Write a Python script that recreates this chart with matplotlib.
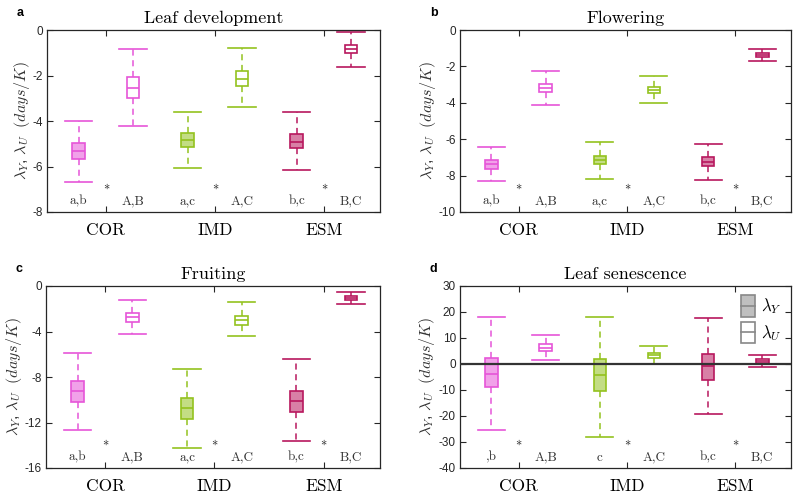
import matplotlib
matplotlib.use("Agg")
import matplotlib.pyplot as plt
from matplotlib.patches import Patch, Rectangle
from matplotlib.lines import Line2D
from matplotlib.legend_handler import HandlerBase
import matplotlib.transforms as mtransforms

plt.rcParams['mathtext.fontset'] = 'cm'
plt.rcParams['font.family'] = ['Liberation Sans', 'DejaVu Sans']
plt.rcParams['axes.unicode_minus'] = False

models = ['COR', 'IMD', 'ESM']
colors = ['#E655D8', '#93C21F', '#B8185E']

# box stats per model: [whislo, q1, median, q3, whishi]
leafdev_Y = [[-6.67, -5.67, -5.30, -4.98, -3.99],
             [-6.08, -5.14, -4.85, -4.54, -3.62],
             [-6.14, -5.20, -4.91, -4.59, -3.62]]
leafdev_U = [[-4.22, -2.97, -2.53, -2.08, -0.84],
             [-3.37, -2.46, -2.14, -1.80, -0.79],
             [-1.61, -1.03, -0.84, -0.66, -0.10]]
flower_Y = [[-8.32, -7.63, -7.35, -7.15, -6.42],
            [-8.16, -7.39, -7.15, -6.90, -6.17],
            [-8.23, -7.48, -7.23, -6.99, -6.26]]
flower_U = [[-4.12, -3.39, -3.16, -2.94, -2.24],
            [-4.03, -3.47, -3.28, -3.14, -2.55],
            [-1.70, -1.46, -1.35, -1.24, -1.02]]
fruit_Y = [[-12.66, -10.18, -9.27, -8.39, -5.85],
           [-14.21, -11.67, -10.70, -9.86, -7.31],
           [-13.66, -11.11, -10.15, -9.21, -6.38]]
fruit_U = [[-4.18, -3.13, -2.75, -2.34, -1.26],
           [-4.42, -3.39, -2.98, -2.60, -1.43],
           [-1.58, -1.20, -1.02, -0.88, -0.53]]
senes_Y = [[-25.5, -9.0, -3.7, 2.2, 18.2],
           [-28.0, -10.3, -4.2, 1.8, 18.2],
           [-19.1, -6.0, -0.8, 3.8, 17.7]]
senes_U = [[1.6, 4.9, 6.1, 7.6, 11.2],
           [-0.1, 2.5, 3.4, 4.4, 7.1],
           [-1.2, 0.3, 1.1, 2.0, 3.6]]

letters_abc = ['a,b', 'A,B', 'a,c', 'A,C', 'b,c', 'B,C']
letters_d = [',b', 'A,B', 'c', 'A,C', 'b,c', 'B,C']

panels = [
    ('a', 'Leaf development', leafdev_Y, leafdev_U, (-8, 0), list(range(-8, 1, 2)), letters_abc),
    ('b', 'Flowering', flower_Y, flower_U, (-10, 0), list(range(-10, 1, 2)), letters_abc),
    ('c', 'Fruiting', fruit_Y, fruit_U, (-16, 0), list(range(-16, 1, 4)), letters_abc),
    ('d', 'Leaf senescence', senes_Y, senes_U, (-40, 30), list(range(-40, 31, 10)), letters_d),
]

# axes rectangles in pixels (left, top, right, bottom) for an 800x499 figure
W, H = 800, 499
rects = [(47, 30, 380, 212), (460, 30, 791, 212),
         (46, 286, 380, 468), (460, 286, 791, 468)]
# horizontal centre of the y label, pixels left of the axis
ylab_off = [25, 32, 32, 33]


class BoxHandler(HandlerBase):
    def create_artists(self, legend, orig_handle, xdescent, ydescent,
                       width, height, fontsize, trans):
        x0, y0 = -xdescent, -ydescent
        r = Rectangle((x0, y0), width, height, facecolor=orig_handle.get_facecolor(),
                      edgecolor=orig_handle.get_edgecolor(), lw=1.2, transform=trans)
        ln = Line2D([x0, x0 + width], [y0 + height / 2, y0 + height / 2],
                    color=orig_handle.get_edgecolor(), lw=1.2, transform=trans)
        return [r, ln]


fig = plt.figure(figsize=(8, 4.99), dpi=100)
shift = mtransforms.ScaledTranslation(7 / 100, 0, fig.dpi_scale_trans)

for (letter, title, dY, dU, ylim, yticks, letters), (l, t, r, b), yo in zip(panels, rects, ylab_off):
    ax = fig.add_axes([l / W, 1 - b / H, (r - l) / W, (b - t) / H])

    if letter == 'd':
        ax.axhline(0, color='#333333', lw=1.6, zorder=5)

    for i, c in enumerate(colors):
        for j, (data, filled) in enumerate([(dY, True), (dU, False)]):
            lo, q1, med, q3, hi = data[i]
            st = dict(whislo=lo, q1=q1, med=med, q3=q3, whishi=hi, fliers=[])
            fc = matplotlib.colors.to_rgba(c, 0.55) if filled else 'none'
            ax.bxp([st], positions=[2 * i + 1 + j], widths=0.23, capwidths=0.5,
                   patch_artist=True, showfliers=False,
                   boxprops=dict(facecolor=fc, edgecolor=c, lw=1.2),
                   medianprops=dict(color=c, lw=1.2),
                   whiskerprops=dict(color=c, lw=1.1, ls=(0, (4, 3))),
                   capprops=dict(color=c, lw=1.2), manage_ticks=False)

    trans = mtransforms.blended_transform_factory(ax.transData, ax.transAxes)
    for k, s in enumerate(letters):
        ax.text(k + 1, 0.057, s, transform=trans, ha='center', va='center',
                fontfamily='cmr10', fontsize=9.5, color='#333333')
    for k in range(3):
        ax.text(2 * k + 1.5, 0.115, '*', transform=trans, ha='center', va='center',
                fontfamily='cmr10', fontsize=9, color='#222222')

    ax.set_xlim(0.42, 6.53)
    ax.set_ylim(*ylim)
    ax.set_yticks(yticks)
    ax.set_xticks([1.5, 3.5, 5.5])
    ax.set_xticklabels(models, fontfamily='cmr10', fontsize=12.5)
    for lab in ax.get_xticklabels():
        lab.set_transform(lab.get_transform() + shift)
    ax.tick_params(axis='x', direction='in', top=True, length=4, pad=8, colors='#262626',
                   labelcolor='black')
    ax.tick_params(axis='y', direction='in', right=True, length=4, labelsize=8.5,
                   colors='#262626', labelcolor='#262626', pad=3)
    for sp in ax.spines.values():
        sp.set_color('#262626')
        sp.set_linewidth(0.9)

    ax.set_title(title, fontfamily='cmr10', fontsize=13, pad=5)
    ax.set_ylabel(r'$\lambda_Y$, $\lambda_U$  $(days/K)$', fontsize=11.5, color='#333333',
                  va='center')
    ax.yaxis.set_label_coords(-yo / (r - l), 0.5)

    fig.text((l - 30) / W, 1 - (t - 17) / H, letter, fontsize=9, fontweight='bold',
             ha='left', va='center')

    if letter == 'd':
        handles = [Patch(facecolor=(0.55, 0.55, 0.55, 0.55), edgecolor='#888888'),
                   Patch(facecolor='white', edgecolor='#888888')]
        ax.legend(handles, [r'$\lambda_Y$', r'$\lambda_U$'],
                  handler_map={Patch: BoxHandler()}, loc='upper right',
                  frameon=False, fontsize=12, handlelength=0.8, handleheight=1.6,
                  handletextpad=0.4, labelspacing=0.3, borderaxespad=0.25,
                  borderpad=0.3)

fig.savefig('out.png', dpi=100)
